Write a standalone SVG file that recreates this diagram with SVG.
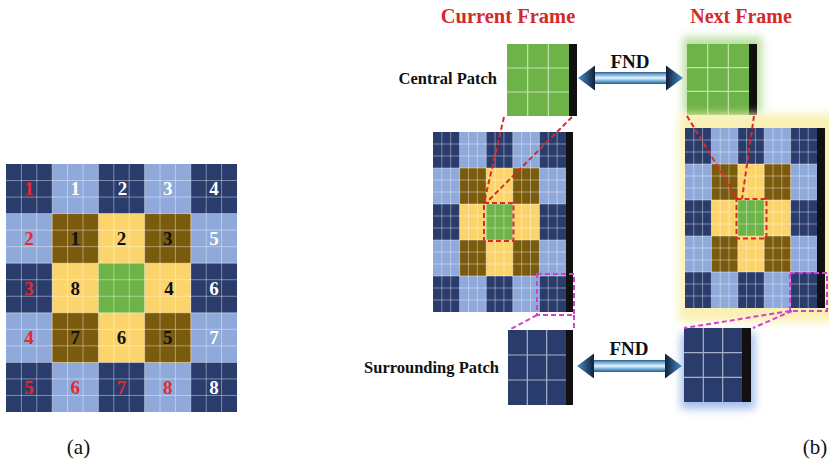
<svg xmlns="http://www.w3.org/2000/svg" width="829" height="466" viewBox="0 0 829 466">
<defs>
<style>
.D{fill:#2a3c6c}.L{fill:#8fa9db}.B{fill:#7a5a0c}.Y{fill:#fcd46c}.G{fill:#6db347}.K{fill:#111}
.gl{fill:none;stroke:#ffffff;stroke-opacity:0.45;stroke-width:0.9}
.pl{fill:none;stroke:#ffffff;stroke-opacity:0.6;stroke-width:1.2}
.num{font-family:"Liberation Serif","Times New Roman",serif;font-weight:bold;font-size:19px;text-anchor:middle}
.r{fill:#e32b2b}.w{fill:#ffffff}.k{fill:#111}
.lbl{font-family:"Liberation Serif","Times New Roman",serif;font-weight:bold;font-size:16.5px;fill:#111;text-anchor:end}
.ttl{font-family:"Liberation Serif","Times New Roman",serif;font-weight:bold;font-size:20px;fill:#d42a2a;text-anchor:middle}
.fnd{font-family:"Liberation Serif","Times New Roman",serif;font-weight:bold;font-size:19px;fill:#111;text-anchor:middle}
.cap{font-family:"Liberation Serif","Times New Roman",serif;font-size:21px;fill:#111;text-anchor:middle}
.rd{fill:none;stroke:#e02626;stroke-width:2;stroke-dasharray:5 3}
.mg{fill:none;stroke:#d240d2;stroke-width:2;stroke-dasharray:5 3}
</style>
<filter id="blur" x="-30%" y="-30%" width="160%" height="160%"><feGaussianBlur stdDeviation="4"/></filter>
<linearGradient id="shaft" x1="0" y1="0" x2="0" y2="1">
<stop offset="0" stop-color="#3b78b0"/><stop offset="0.35" stop-color="#a9d3f0"/><stop offset="0.5" stop-color="#e8f5fd"/><stop offset="0.7" stop-color="#8cc0e6"/><stop offset="1" stop-color="#2f6697"/>
</linearGradient>
<linearGradient id="headL" x1="1" y1="0" x2="0" y2="0"><stop offset="0" stop-color="#0f1f38"/><stop offset="1" stop-color="#4a8fcc"/></linearGradient>
<linearGradient id="headR" x1="0" y1="0" x2="1" y2="0"><stop offset="0" stop-color="#0f1f38"/><stop offset="1" stop-color="#4a8fcc"/></linearGradient>
<g id="dblarrow">
<rect x="593" y="72.5" width="74" height="11" fill="url(#shaft)" stroke="#2a5580" stroke-width="0.8"/>
<polygon points="578,78 595,65.5 595,90.5" fill="url(#headL)"/>
<polygon points="683,78 666,65.5 666,90.5" fill="url(#headR)"/>
</g>
</defs>
<rect width="829" height="466" fill="#ffffff"/>

<g id="grid-a">
<rect class="L" x="6" y="164" width="231" height="248"/>
<rect class="D" x="6" y="164" width="46.2" height="49.6"/><rect class="D" x="98.4" y="164" width="46.2" height="49.6"/><rect class="D" x="190.8" y="164" width="46.2" height="49.6"/>
<rect class="D" x="6" y="263.2" width="46.2" height="49.6"/><rect class="D" x="190.8" y="263.2" width="46.2" height="49.6"/>
<rect class="D" x="6" y="362.4" width="46.2" height="49.6"/><rect class="D" x="98.4" y="362.4" width="46.2" height="49.6"/><rect class="D" x="190.8" y="362.4" width="46.2" height="49.6"/>
<rect class="Y" x="52.2" y="213.6" width="138.6" height="148.8"/>
<rect class="B" x="52.2" y="213.6" width="46.2" height="49.6"/><rect class="B" x="144.6" y="213.6" width="46.2" height="49.6"/>
<rect class="B" x="52.2" y="312.8" width="46.2" height="49.6"/><rect class="B" x="144.6" y="312.8" width="46.2" height="49.6"/>
<rect class="G" x="98.4" y="263.2" width="46.2" height="49.6"/>
<path class="gl" d="M21.4 164V412M36.8 164V412M52.2 164V412M67.6 164V412M83 164V412M98.4 164V412M113.8 164V412M129.2 164V412M144.6 164V412M160 164V412M175.4 164V412M190.8 164V412M206.2 164V412M221.6 164V412M6 180.53H237M6 197.07H237M6 213.6H237M6 230.13H237M6 246.67H237M6 263.2H237M6 279.73H237M6 296.27H237M6 312.8H237M6 329.33H237M6 345.87H237M6 362.4H237M6 378.93H237M6 395.47H237"/>
<text class="num r" x="29.1" y="195">1</text><text class="num r" x="29.1" y="245">2</text><text class="num r" x="29.1" y="294.5">3</text><text class="num r" x="29.1" y="344">4</text><text class="num r" x="29.1" y="393.5">5</text>
<text class="num r" x="75.3" y="393.5">6</text><text class="num r" x="121.5" y="393.5">7</text><text class="num r" x="167.7" y="393.5">8</text>
<text class="num w" x="75.3" y="195">1</text><text class="num w" x="122.5" y="195">2</text><text class="num w" x="167.7" y="195">3</text><text class="num w" x="213.9" y="195">4</text>
<text class="num w" x="213.9" y="245">5</text><text class="num w" x="213.9" y="294.5">6</text><text class="num w" x="213.9" y="344">7</text><text class="num w" x="213.9" y="393.5">8</text>
<text class="num k" x="75.3" y="245">1</text><text class="num k" x="121.5" y="245">2</text><text class="num k" x="167.7" y="245">3</text>
<text class="num k" x="169" y="294.5">4</text><text class="num k" x="167.7" y="344">5</text><text class="num k" x="121.5" y="344">6</text>
<text class="num k" x="75.3" y="344">7</text><text class="num k" x="75.3" y="294.5">8</text>
</g>

<g id="titles">
<text class="ttl" x="508" y="23" style="font-size:20.5px">Current Frame</text>
<text class="ttl" x="741" y="23">Next Frame</text>
</g>

<g id="central-patch-current">
<text class="lbl" x="497" y="84">Central Patch</text>
<rect class="G" x="507" y="44" width="62" height="72"/>
<path class="pl" d="M527.67 44V116M548.33 44V116M507 68H569M507 92H569"/>
<rect class="K" x="569" y="44" width="8" height="72"/>
</g>

<g id="central-patch-next">
<rect x="683" y="37" width="79" height="76" fill="#a8d88a" opacity="0.8" filter="url(#blur)"/>
<rect class="G" x="687" y="44" width="62" height="71"/>
<path class="pl" d="M707.67 44V115M728.33 44V115M687 67.67H749M687 91.33H749"/>
<rect class="K" x="749" y="44" width="8" height="71"/>
</g>

<g id="frame-current">
<rect class="L" x="433" y="132" width="133" height="180"/>
<rect class="D" x="433" y="132" width="26.6" height="36"/><rect class="D" x="486.2" y="132" width="26.6" height="36"/><rect class="D" x="539.4" y="132" width="26.6" height="36"/>
<rect class="D" x="433" y="204" width="26.6" height="36"/><rect class="D" x="539.4" y="204" width="26.6" height="36"/>
<rect class="D" x="433" y="276" width="26.6" height="36"/><rect class="D" x="486.2" y="276" width="26.6" height="36"/><rect class="D" x="539.4" y="276" width="26.6" height="36"/>
<rect class="Y" x="459.6" y="168" width="79.8" height="108"/>
<rect class="B" x="459.6" y="168" width="26.6" height="36"/><rect class="B" x="512.8" y="168" width="26.6" height="36"/>
<rect class="B" x="459.6" y="240" width="26.6" height="36"/><rect class="B" x="512.8" y="240" width="26.6" height="36"/>
<rect class="G" x="486.2" y="204" width="26.6" height="36"/>
<path class="gl" d="M441.87 132V312M450.73 132V312M459.6 132V312M468.47 132V312M477.33 132V312M486.2 132V312M495.07 132V312M503.93 132V312M512.8 132V312M521.67 132V312M530.53 132V312M539.4 132V312M548.27 132V312M557.13 132V312M433 144H566M433 156H566M433 168H566M433 180H566M433 192H566M433 204H566M433 216H566M433 228H566M433 240H566M433 252H566M433 264H566M433 276H566M433 288H566M433 300H566"/>
<rect class="K" x="566" y="132" width="7" height="180"/>
</g>

<g id="frame-next">
<rect x="679" y="114" width="156" height="208" fill="#f9f0b4" filter="url(#blur)"/>
<rect class="L" x="685" y="128" width="132" height="180"/>
<rect class="D" x="685" y="128" width="26.4" height="36"/><rect class="D" x="737.8" y="128" width="26.4" height="36"/><rect class="D" x="790.6" y="128" width="26.4" height="36"/>
<rect class="D" x="685" y="200" width="26.4" height="36"/><rect class="D" x="790.6" y="200" width="26.4" height="36"/>
<rect class="D" x="685" y="272" width="26.4" height="36"/><rect class="D" x="737.8" y="272" width="26.4" height="36"/><rect class="D" x="790.6" y="272" width="26.4" height="36"/>
<rect class="Y" x="711.4" y="164" width="79.2" height="108"/>
<rect class="B" x="711.4" y="164" width="26.4" height="36"/><rect class="B" x="764.2" y="164" width="26.4" height="36"/>
<rect class="B" x="711.4" y="236" width="26.4" height="36"/><rect class="B" x="764.2" y="236" width="26.4" height="36"/>
<rect class="G" x="737.8" y="200" width="26.4" height="36"/>
<path class="gl" d="M693.8 128V308M702.6 128V308M711.4 128V308M720.2 128V308M729 128V308M737.8 128V308M746.6 128V308M755.4 128V308M764.2 128V308M773 128V308M781.8 128V308M790.6 128V308M799.4 128V308M808.2 128V308M685 140H817M685 152H817M685 164H817M685 176H817M685 188H817M685 200H817M685 212H817M685 224H817M685 236H817M685 248H817M685 260H817M685 272H817M685 284H817M685 296H817"/>
<rect class="K" x="817" y="128" width="8" height="180"/>
</g>

<g id="surrounding-patch-current">
<text class="lbl" x="499" y="373">Surrounding Patch</text>
<rect class="D" x="508" y="330" width="58" height="75"/>
<path class="pl" d="M527.33 330V405M546.67 330V405M508 355H566M508 380H566"/>
<rect class="K" x="566" y="330" width="7" height="75"/>
</g>

<g id="surrounding-patch-next">
<rect x="681" y="333" width="74" height="76" fill="#9ab8e8" opacity="0.9" filter="url(#blur)"/>
<rect class="D" x="684" y="328" width="58" height="74"/>
<path class="pl" d="M703.33 328V402M722.67 328V402M684 352.67H742M684 377.33H742"/>
<rect class="K" x="742" y="328" width="9" height="74"/>
</g>

<g id="connectors">
<rect class="rd" x="484" y="203" width="29.5" height="38"/>
<rect class="rd" x="736.5" y="199" width="30" height="39.5"/>
<line class="rd" x1="504" y1="117" x2="484" y2="203"/>
<line class="rd" x1="572" y1="117" x2="486" y2="203"/>
<line class="rd" x1="687" y1="116" x2="737.5" y2="199"/>
<line class="rd" x1="754" y1="116" x2="742" y2="199"/>
<rect class="mg" x="537" y="274" width="37" height="41"/>
<rect class="mg" x="790" y="273" width="37" height="38"/>
<line class="mg" x1="537" y1="315" x2="509" y2="330"/>
<line class="mg" x1="574" y1="315" x2="574" y2="330"/>
<line class="mg" x1="790" y1="311" x2="684" y2="328"/>
<line class="mg" x1="792" y1="311" x2="753" y2="328"/>
<use href="#dblarrow"/>
<use href="#dblarrow" transform="translate(-1 288)"/>
<text class="fnd" x="630" y="68">FND</text>
<text class="fnd" x="629" y="355">FND</text>
</g>

<g id="captions">
<text class="cap" x="78.5" y="454">(a)</text>
<text class="cap" x="815" y="454">(b)</text>
</g>
</svg>
